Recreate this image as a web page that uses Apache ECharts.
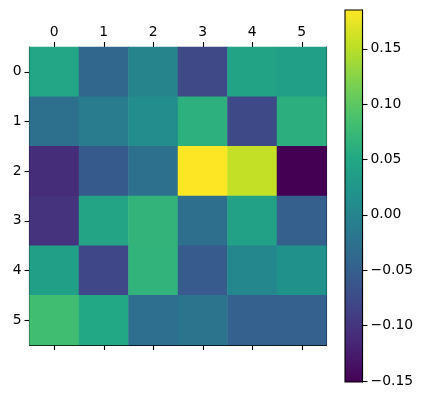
<!DOCTYPE html>
<html>
<head>
<meta charset="utf-8">
<script src="https://cdn.jsdelivr.net/npm/echarts@6/dist/echarts.min.js"></script>
<style>
  html, body { margin: 0; padding: 0; background: #fff; }
  #chart { width: 425px; height: 399px; }
</style>
</head>
<body>
<div id="chart"></div>
<script>
// matrix values, row by row (row index = y label, column index = x label)
const cols = ['0', '1', '2', '3', '4', '5'];
const rows = ['0', '1', '2', '3', '4', '5'];
const row0 = [0.048, -0.040, 0.000, -0.077, 0.044, 0.037];
const row1 = [-0.027, -0.013, 0.010, 0.061, -0.076, 0.060];
const row2 = [-0.108, -0.056, -0.027, 0.185, 0.155, -0.151];
const row3 = [-0.102, 0.045, 0.067, -0.029, 0.040, -0.050];
const row4 = [0.037, -0.080, 0.066, -0.055, 0.004, 0.017];
const row5 = [0.081, 0.050, -0.030, -0.023, -0.047, -0.047];
const colorbarTicks = [-0.15, -0.10, -0.05, 0.00, 0.05, 0.10, 0.15];

const matrix = [row0, row1, row2, row3, row4, row5];
const vmin = -0.151;
const vmax = 0.185;

const viridis = ['#440154', '#482475', '#414487', '#355f8d', '#2a788e', '#21918c',
  '#22a884', '#44bf70', '#7ad151', '#bddf26', '#fde725'];

const data = [];
matrix.forEach((row, y) => {
  row.forEach((v, x) => data.push([x, y, v]));
});

const font = 'DejaVu Sans';
const fontSize = 13.9;
const axisLine = { show: true, lineStyle: { color: '#000', width: 1.1 } };
const tick = { show: true, length: 5, lineStyle: { color: '#000', width: 1.1 } };
const label = { color: '#000', fontFamily: font, fontSize: fontSize };

const chart = echarts.init(document.getElementById('chart'), null, { renderer: 'canvas' });

chart.setOption({
  backgroundColor: '#fff',
  animation: false,
  grid: [
    { left: 29.5, top: 47, width: 297, height: 298, outerBoundsMode: 'none' },
    { left: 345, top: 10, width: 17.5, height: 372, outerBoundsMode: 'none' }
  ],
  xAxis: [
    {
      type: 'category', data: cols, position: 'top', gridIndex: 0,
      axisLine: axisLine, axisTick: { ...tick, alignWithLabel: true },
      axisLabel: { ...label, margin: 8 }, splitLine: { show: false }
    },
    {
      type: 'category', data: cols, position: 'bottom', gridIndex: 0,
      axisLine: axisLine, axisTick: { ...tick, alignWithLabel: true },
      axisLabel: { show: false }, splitLine: { show: false }
    },
    { type: 'category', data: [''], gridIndex: 1, show: false }
  ],
  yAxis: [
    {
      type: 'category', data: rows, inverse: true, position: 'left', gridIndex: 0,
      axisLine: axisLine, axisTick: { ...tick, alignWithLabel: true },
      axisLabel: { ...label, margin: 8 }, splitLine: { show: false }
    },
    {
      type: 'category', data: rows, inverse: true, position: 'right', gridIndex: 0,
      axisLine: axisLine, axisTick: { show: false },
      axisLabel: { show: false }, splitLine: { show: false }
    },
    {
      type: 'value', gridIndex: 1, position: 'right', min: vmin, max: vmax,
      axisLine: axisLine,
      axisTick: { ...tick, customValues: colorbarTicks },
      axisLabel: {
        ...label, margin: 8, customValues: colorbarTicks,
        formatter: v => v.toFixed(2).replace('-', '\u2212')
      },
      splitLine: { show: false }
    }
  ],
  visualMap: {
    show: false, min: vmin, max: vmax, dimension: 2, seriesIndex: 0,
    inRange: { color: viridis }
  },
  graphic: [
    {
      type: 'rect', z: 10,
      shape: { x: 345, y: 10, width: 17.5, height: 372 },
      style: {
        fill: new echarts.graphic.LinearGradient(0, 1, 0, 0,
          viridis.map((c, i) => ({ offset: i / (viridis.length - 1), color: c }))),
        stroke: '#000', lineWidth: 1.1
      }
    }
  ],
  series: [
    {
      type: 'heatmap', xAxisIndex: 0, yAxisIndex: 0, data: data,
      itemStyle: { borderWidth: 0 },
      emphasis: { disabled: true }
    }
  ]
});
</script>
</body>
</html>
